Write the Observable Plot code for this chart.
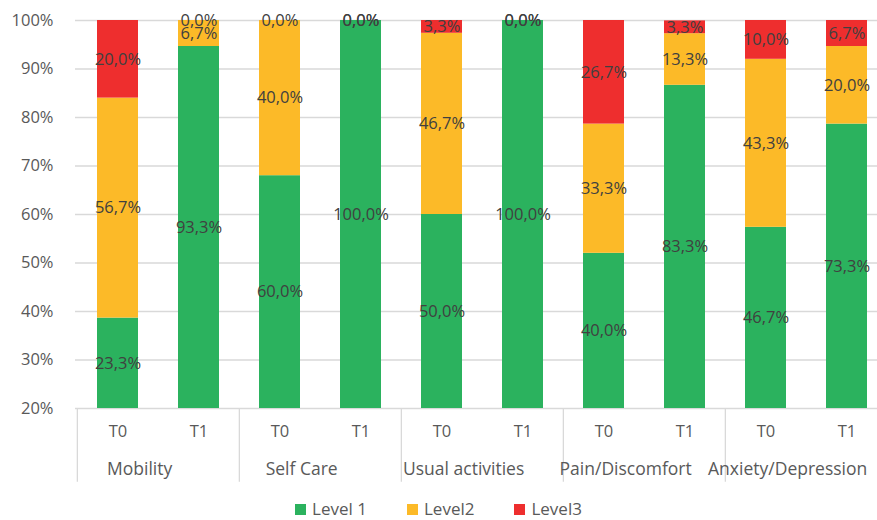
<!DOCTYPE html>
<html>
<head>
<meta charset="utf-8">
<script src="https://cdn.jsdelivr.net/npm/d3@7"></script>
<script src="https://cdn.jsdelivr.net/npm/@observablehq/plot@0.6"></script>
<style>
  html, body { margin: 0; padding: 0; background: #fff; overflow: hidden; }
  body { width: 877px; height: 520px; font-family: "Open Sans", sans-serif; }
  #chart svg { max-width: none !important; display: block; }
  #legend { width: 877px; display: flex; justify-content: center; align-items: center; gap: 40px; margin-top: 10px; font-size: 17px; color: #595959; line-height: 18px; height: 18px; }
  #legend .item { display: flex; align-items: center; gap: 6px; }
  #legend .sw { width: 11px; height: 11px; display: inline-block; }
</style>
</head>
<body>
<div id="chart"></div>
<div id="legend"></div>
<script>
const groups = ["Mobility", "Self Care", "Usual activities", "Pain/Discomfort", "Anxiety/Depression"];
const times = ["T0", "T1"];
const levels = ["Level 1", "Level2", "Level3"];
const colors = ["#2bb25e", "#fcba28", "#ee2e2e"];
// values per bar, order: Mobility T0, T1, Self Care T0, T1, Usual T0, T1, Pain T0, T1, Anxiety T0, T1
const level1 = [23.3, 93.3, 60.0, 100.0, 50.0, 100.0, 40.0, 83.3, 46.7, 73.3];
const level2 = [56.7, 6.7, 40.0, 0.0, 46.7, 0.0, 33.3, 13.3, 43.3, 20.0];
const level3 = [20.0, 0.0, 0.0, 0.0, 3.3, 0.0, 26.7, 3.3, 10.0, 6.7];
const yTickLabels = ["20%", "30%", "40%", "50%", "60%", "70%", "80%", "90%", "100%"];

const keys = [];
groups.forEach(g => times.forEach(t => keys.push(g + "|" + t)));
const series = [level1, level2, level3];
const data = [];
levels.forEach((lv, li) => keys.forEach((k, i) => data.push({key: k, level: lv, value: series[li][i]})));

const W = 890, H = 490, ML = 75, MR = 2, MT = 20, MB = 82;
const step = (W - ML - MR) / keys.length;
const yTicks = yTickLabels.map((_, i) => i * 100 / (yTickLabels.length - 1));
const fmt = v => v.toFixed(1).replace(".", ",") + "%";

const plot = Plot.plot({
  width: W, height: H,
  marginLeft: ML, marginRight: MR, marginTop: MT, marginBottom: MB,
  style: {fontFamily: "'Open Sans', sans-serif", fontSize: "16px", color: "#595959", background: "#fff", maxWidth: "none"},
  x: {domain: keys, padding: 0, axis: null, label: null},
  y: {domain: [0, 100], axis: null, label: null},
  color: {domain: levels, range: colors},
  marks: [
    Plot.gridY(yTicks, {stroke: "#d9d9d9", strokeOpacity: 1, strokeWidth: 1.3}),
    Plot.ruleX(groups, {x: g => g + "|T0", dx: -step / 2, y1: 0, y2: -19, stroke: "#d9d9d9", strokeOpacity: 1, strokeWidth: 1.3}),
    Plot.barY(data, {x: "key", y: "value", fill: "level", insetLeft: 20, insetRight: 20}),
    Plot.text(data, Plot.stackY({x: "key", y: "value", z: "level", text: d => fmt(d.value), fill: "#404040", fontSize: 16.5})),
    Plot.axisY(yTicks, {tickFormat: (d, i) => yTickLabels[i], tickSize: 0, tickPadding: 22, fontSize: 16.5, fill: "#595959", label: null}),
    Plot.axisX({tickFormat: d => d.split("|")[1], tickSize: 0, tickPadding: 17, fontSize: 16.5, fill: "#595959", label: null}),
    Plot.text(groups, {x: g => g + "|T0", dx: step / 2 - 19, frameAnchor: "bottom", dy: 66, text: d => d, fill: "#595959", fontSize: 17.5})
  ]
});
document.getElementById("chart").appendChild(plot);

const legend = document.getElementById("legend");
levels.forEach((lv, i) => {
  const it = document.createElement("div");
  it.className = "item";
  const sw = document.createElement("span");
  sw.className = "sw";
  sw.style.background = colors[i];
  const tx = document.createElement("span");
  tx.textContent = lv;
  it.appendChild(sw); it.appendChild(tx);
  legend.appendChild(it);
});
</script>
</body>
</html>
